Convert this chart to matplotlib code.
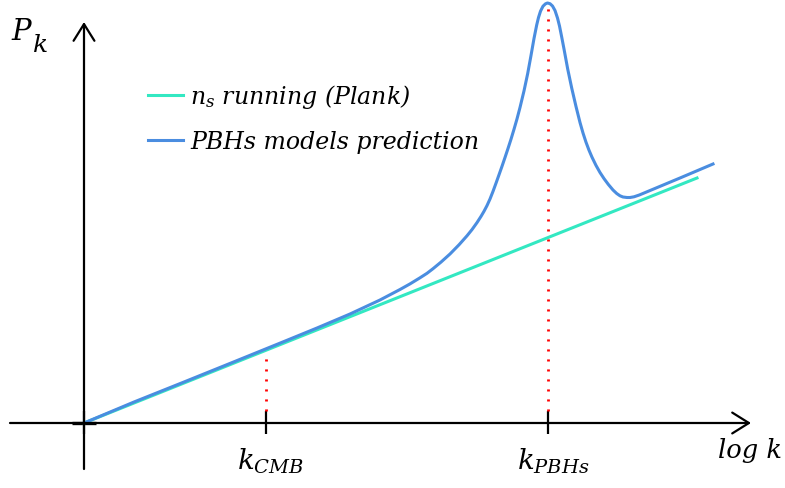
import matplotlib
matplotlib.use("Agg")
import matplotlib.pyplot as plt

# Schematic power spectrum: log k on the horizontal axis, P_k on the vertical
plt.rcParams["mathtext.fontset"] = "custom"
plt.rcParams["mathtext.it"] = "DejaVu Serif:italic"
plt.rcParams["mathtext.rm"] = "DejaVu Serif"
plt.rcParams["font.family"] = "DejaVu Serif"

# n_s running (Planck): straight line in log k
ns_x = [0.0, 6.13]
ns_y = [0.0, 2.45]

# PBH model: follows the running line, then a sharp peak at k_PBHs
pbh_x = [0.0, 0.5, 1.0, 1.5, 2.0, 2.33, 2.66, 2.96, 3.16, 3.26,
         3.36, 3.43, 3.49, 3.57, 3.66, 3.75, 3.83, 3.88, 3.93, 3.97,
         4.00, 4.03, 4.06, 4.09, 4.12, 4.15, 4.18, 4.21, 4.24, 4.27,
         4.30, 4.33, 4.36, 4.40, 4.437, 4.47, 4.50, 4.527, 4.545, 4.565,
         4.59, 4.615, 4.635, 4.66, 4.685, 4.71, 4.735, 4.755, 4.777, 4.80,
         4.837, 4.877, 4.92, 4.96, 4.99, 5.02, 5.05, 5.08, 5.12, 5.16,
         5.20, 5.243, 5.29, 5.327, 5.36, 5.39, 5.43, 5.46, 5.50, 5.553,
         5.96, 6.29]
pbh_y = [0.0, 0.21, 0.41, 0.612, 0.815, 0.95, 1.09, 1.23, 1.335, 1.391,
         1.452, 1.497, 1.543, 1.609, 1.69, 1.782, 1.872, 1.934, 2.004, 2.066,
         2.117, 2.174, 2.24, 2.316, 2.398, 2.482, 2.567, 2.655, 2.745, 2.838,
         2.937, 3.041, 3.155, 3.321, 3.495, 3.675, 3.845, 3.98, 4.055, 4.118,
         4.168, 4.192, 4.20, 4.193, 4.17, 4.125, 4.05, 3.97, 3.86, 3.74,
         3.54, 3.35, 3.165, 3.005, 2.90, 2.808, 2.728, 2.658, 2.576, 2.505,
         2.444, 2.386, 2.33, 2.295, 2.272, 2.26, 2.255, 2.255, 2.262, 2.28,
         2.45, 2.59]

# marked scales on the k axis
k_names = [r"$k_{CMB}$", r"$k_{PBHs}$"]
k_pos = [1.82, 4.64]
k_top = [0.69, 4.18]

fig = plt.figure(figsize=(7.85, 4.89), dpi=100)
ax = fig.add_axes([0, 0, 1, 1])
ax.set_xlim(-0.84, 7.01)
ax.set_ylim(-0.65, 4.24)
ax.axis("off")

# axes with open arrow heads
arrow = dict(arrowstyle="->,head_length=1.2,head_width=0.75", lw=1.6,
             color="black", shrinkA=0, shrinkB=0)
ax.annotate("", xy=(6.67, 0), xytext=(-0.74, 0), arrowprops=arrow)
ax.annotate("", xy=(0, 4.01), xytext=(0, -0.46), arrowprops=arrow)

# ticks, including the origin
ax.vlines([0] + k_pos, -0.11, 0.12, color="black", lw=1.6)
ax.hlines(0, -0.12, 0.12, color="black", lw=2.4)

# dotted guides from the curves down to the axis
ax.vlines(k_pos, 0.12, k_top, color="red", lw=2.0, linestyles=(0, (0.75, 2.85)))

ax.plot(ns_x, ns_y, color="#33E8C2", lw=2.2, label=r"$n_s$ running (Plank)")
ax.plot(pbh_x, pbh_y, color="#4A8DE0", lw=2.2, solid_joinstyle="round",
        label="PBHs models prediction")

for name, x in zip(k_names, k_pos):
    ax.annotate(name, (x, -0.46), xytext=(5, 0), textcoords="offset pixels",
                fontsize=20, ha="center", va="baseline")

ax.text(-0.73, 3.84, "P", fontsize=21, style="italic", va="baseline")
ax.text(-0.51, 3.72, "k", fontsize=18, style="italic", va="baseline")
ax.text(6.34, -0.34, "log k", fontsize=18.5, style="italic", va="baseline")

ax.legend(loc="upper left", bbox_to_anchor=(148 / 785, 1 - 83 / 489),
          frameon=False, borderpad=0, borderaxespad=0,
          prop={"family": "DejaVu Serif", "style": "italic", "size": 17},
          handlelength=1.48, handletextpad=0.3, labelspacing=0.86)

fig.savefig("out.png", dpi=100)
